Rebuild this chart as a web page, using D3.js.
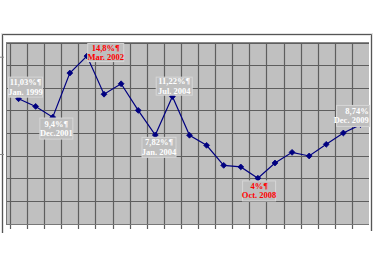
<!DOCTYPE html>
<html><head><meta charset="utf-8">
<script src="https://cdn.jsdelivr.net/npm/d3@7"></script>
<style>html,body{margin:0;padding:0;background:#fff;}svg{display:block;}</style>
</head><body>
<svg id="c" width="373" height="279"></svg>
<script>
// ---- data ----
const categories = d3.range(1, 22).map(String);
const values = [11.03, 10.35, 9.4, 13.3, 14.8, 11.43, 12.35, 10.0, 7.82, 11.22, 7.8,
                6.91, 5.14, 5.0, 4.0, 5.35, 6.29, 5.97, 7.0, 8.0, 8.74];
const yTicks = [0, 2, 4, 6, 8, 10, 12, 14, 16];
const labelIndex = [0, 2, 4, 9, 8, 14, 20];
const labelLine1 = ["11,03%¶", "9,4%¶", "14,8%¶", "11,22%¶", "7,82%¶", "4%¶", "8,74%"];
const labelLine2 = ["Jan. 1999", "Dec.2001", "Mar. 2002", "Jul. 2004", "Jan. 2004", "Oct. 2008", "Dec. 2009"];
const labelRed = [false, false, true, false, false, true, false];

// ---- layout (not data) ----
const labelOffset = [[7, -11.6], [3.6, 11.4], [18.8, -3.5], [1.8, -10.4], [3.7, 12.3], [1.2, 12.7], [-7.3, -8.7]];
const labelSize = [[34, 20], [33, 21], [36, 18], [36, 18], [34, 20], [33, 20], [33, 21]];

const svg = d3.select("#c");
const plot = {x0: 6, x1: 369, y0: 42, y1: 224};

// outer frame (left, top, right)
svg.append("path").attr("d", "M2.5,233V34.5H371.5V231")
  .attr("fill", "none").attr("stroke", "#e2e2e2").attr("stroke-width", 3);
svg.append("path").attr("d", "M2.5,233V34.5H371.5V231")
  .attr("fill", "none").attr("stroke", "#555").attr("stroke-width", 1);

// plot area
svg.append("rect").attr("x", plot.x0).attr("y", plot.y0)
  .attr("width", plot.x1 - plot.x0).attr("height", plot.y1 - plot.y0)
  .attr("fill", "#c0c0c0");

const x = d3.scaleBand().domain(categories).range([10, 369]).padding(0);
const y = d3.scaleLinear().domain([0, 16]).range([223.5, 42.5]);

// horizontal gridlines
svg.append("g").selectAll("line").data(yTicks).join("line")
  .attr("x1", plot.x0).attr("x2", plot.x1)
  .attr("y1", d => Math.round(y(d)) + 0.5).attr("y2", d => Math.round(y(d)) + 0.5)
  .attr("stroke", "#5e5e5e").attr("stroke-width", 1.2);

// vertical gridlines at band boundaries
const bounds = categories.map(c => x(c));
svg.append("g").selectAll("line").data(bounds).join("line")
  .attr("x1", d => Math.round(d) + 0.5).attr("x2", d => Math.round(d) + 0.5)
  .attr("y1", plot.y0).attr("y2", 229)
  .attr("stroke", "#5e5e5e").attr("stroke-width", 1.2);

// axes lines
svg.append("line").attr("x1", plot.x0 + 0.5).attr("x2", plot.x0 + 0.5)
  .attr("y1", plot.y0).attr("y2", plot.y1 + 1).attr("stroke", "#777").attr("stroke-width", 1);
svg.append("line").attr("x1", plot.x0).attr("x2", plot.x1)
  .attr("y1", plot.y1 + 0.5).attr("y2", plot.y1 + 0.5).attr("stroke", "#777").attr("stroke-width", 1);
svg.append("line").attr("x1", plot.x0).attr("x2", plot.x1)
  .attr("y1", plot.y0 + 0.5).attr("y2", plot.y0 + 0.5).attr("stroke", "#888").attr("stroke-width", 1);

// small left tick marks
svg.append("g").selectAll("line").data([14.7, 6.1]).join("line")
  .attr("x1", 0).attr("x2", 4)
  .attr("y1", d => y(d)).attr("y2", d => y(d))
  .attr("stroke", "#888");

// line + markers
const cx = (d, i) => x(categories[i]) + x.bandwidth() / 2;
const line = d3.line().x((d, i) => cx(d, i)).y(d => y(d));
svg.append("path").datum(values).attr("d", line)
  .attr("fill", "none").attr("stroke", "#000080").attr("stroke-width", 1.2);
svg.append("g").selectAll("path").data(values).join("path")
  .attr("transform", (d, i) => `translate(${cx(d, i)},${y(d)})`)
  .attr("d", d3.symbol(d3.symbolDiamond2, 22))
  .attr("fill", "#000080").attr("stroke", "#000080").attr("stroke-width", 0.8);

// labels
labelIndex.forEach((idx, k) => {
  const px = cx(values[idx], idx), py = y(values[idx]);
  const [ox, oy] = labelOffset[k];
  const [w, h] = labelSize[k];
  const bx = px + ox, by = py + oy;
  const g = svg.append("g");
  g.append("rect").attr("x", bx - w / 2).attr("y", by - h / 2).attr("width", w).attr("height", h)
    .attr("fill", "#bebebe").attr("stroke", "#d6d6d6").attr("stroke-width", 1);
  const col = labelRed[k] ? "#ff0000" : "#ffffff";
  const anchor = k === 6 ? "end" : "middle";
  const tx = k === 6 ? bx + w / 2 - 1 : bx;
  g.append("text").attr("x", tx).attr("y", by - 2)
    .attr("text-anchor", anchor).attr("fill", col)
    .attr("font-family", "Liberation Serif, Times New Roman, serif").attr("font-size", 8.5)
    .attr("font-weight", "bold").text(labelLine1[k]);
  g.append("text").attr("x", tx).attr("y", by + 7.5)
    .attr("text-anchor", anchor).attr("fill", col)
    .attr("font-family", "Liberation Serif, Times New Roman, serif").attr("font-size", 8.5)
    .attr("font-weight", "bold").text(labelLine2[k]);
});
</script>
</body></html>
